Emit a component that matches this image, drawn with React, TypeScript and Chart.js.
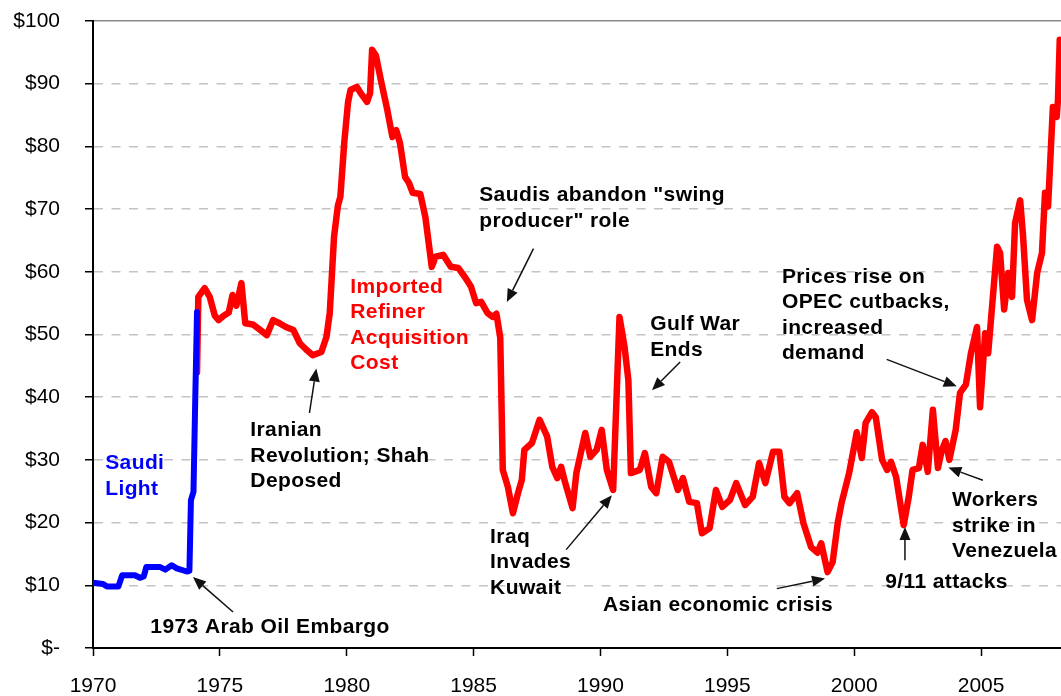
import { useEffect, useRef } from 'react';
import { Chart, registerables } from 'chart.js';

Chart.register(...registerables);

// ---------- Data ----------
const saudiYears = [
  1970.0, 1970.4, 1970.55, 1971.0, 1971.15, 1971.65, 1971.85, 1972.0, 1972.1, 1972.65,
  1972.85, 1973.1, 1973.3, 1973.7, 1973.8, 1973.86, 1973.96, 1974.03, 1974.1,
];
const saudiValues = [
  10.4, 10.2, 9.8, 9.8, 11.6, 11.6, 11.2, 11.4, 12.9, 12.9,
  12.5, 13.2, 12.7, 12.2, 12.3, 23.6, 24.9, 39.7, 53.6,
];

const racYears = [
  1974.1, 1974.15, 1974.4, 1974.6, 1974.8, 1974.95, 1975.15, 1975.35, 1975.5, 1975.65,
  1975.85, 1976.0, 1976.3, 1976.6, 1976.85, 1977.1, 1977.35, 1977.6, 1977.9, 1978.15,
  1978.4, 1978.66, 1979.0, 1979.2, 1979.33, 1979.5, 1979.65, 1979.75, 1979.9, 1980.05,
  1980.15, 1980.4, 1980.55, 1980.8, 1980.92, 1981.0, 1981.15, 1981.35, 1981.6, 1981.8,
  1981.95, 1982.1, 1982.3, 1982.45, 1982.6, 1982.9, 1983.1, 1983.35, 1983.5, 1983.8,
  1984.1, 1984.4, 1984.65, 1984.9, 1985.1, 1985.3, 1985.55, 1985.75, 1985.9, 1986.05,
  1986.15, 1986.35, 1986.55, 1986.75, 1986.9, 1987.0, 1987.3, 1987.6, 1987.9, 1988.1,
  1988.3, 1988.45, 1988.6, 1988.9, 1989.05, 1989.4, 1989.6, 1989.85, 1990.05, 1990.25,
  1990.5, 1990.75, 1990.95, 1991.1, 1991.2, 1991.55, 1991.75, 1992.0, 1992.2, 1992.45,
  1992.7, 1993.05, 1993.25, 1993.5, 1993.8, 1994.0, 1994.3, 1994.55, 1994.8, 1995.1,
  1995.35, 1995.7, 1996.0, 1996.25, 1996.5, 1996.8, 1997.05, 1997.25, 1997.45, 1997.75,
  1998.0, 1998.3, 1998.55, 1998.7, 1998.95, 1999.15, 1999.35, 1999.5, 1999.8, 2000.1,
  2000.3, 2000.45, 2000.7, 2000.85, 2001.1, 2001.3, 2001.45, 2001.65, 2001.95, 2002.15,
  2002.3, 2002.55, 2002.7, 2002.9, 2003.1, 2003.3, 2003.45, 2003.6, 2003.75, 2004.0,
  2004.17, 2004.4, 2004.6, 2004.84, 2004.96, 2005.16, 2005.28, 2005.63, 2005.75, 2005.91,
  2006.07, 2006.22, 2006.34, 2006.54, 2006.65, 2006.81, 2007.01, 2007.21, 2007.4, 2007.52,
  2007.64, 2007.83, 2007.98, 2008.03, 2008.1,
];
const racValues = [
  44.0, 56.0, 57.4, 56.0, 53.0, 52.3, 53.0, 53.5, 56.3, 54.6,
  58.2, 51.8, 51.6, 50.7, 49.9, 52.3, 51.8, 51.2, 50.7, 48.6,
  47.6, 46.7, 47.2, 49.6, 53.4, 65.6, 70.5, 72.0, 80.5, 87.0,
  89.0, 89.5, 88.5, 87.1, 88.5, 95.4, 94.5, 90.5, 85.8, 81.5,
  82.6, 80.5, 75.1, 74.2, 72.6, 72.4, 68.7, 60.8, 62.4, 62.7,
  60.8, 60.6, 59.2, 57.6, 55.0, 55.2, 53.4, 52.8, 53.3, 49.5,
  28.4, 25.7, 21.5, 24.7, 26.8, 31.6, 32.7, 36.4, 33.7, 28.9,
  27.1, 28.9, 26.5, 22.3, 27.9, 34.3, 30.5, 31.6, 34.8, 28.4,
  25.2, 52.8, 48.0, 42.7, 27.9, 28.4, 31.1, 25.7, 24.7, 30.5,
  29.7, 25.2, 27.1, 23.3, 23.1, 18.3, 19.1, 25.2, 22.5, 23.6,
  26.3, 22.8, 24.1, 29.5, 26.3, 31.3, 31.3, 24.1, 23.1, 24.7,
  19.9, 16.1, 15.2, 16.7, 12.1, 13.7, 19.9, 23.1, 27.9, 34.4,
  30.3, 35.9, 37.6, 36.8, 30.0, 28.4, 29.7, 27.3, 19.6, 24.1,
  28.4, 28.7, 32.4, 28.1, 38.0, 28.7, 31.5, 33.0, 30.0, 34.8,
  40.7, 42.0, 47.0, 51.2, 38.4, 50.2, 47.0, 64.0, 63.0, 54.0,
  59.8, 56.0, 67.8, 71.4, 66.0, 55.5, 52.3, 59.8, 63.0, 72.6,
  70.4, 86.3, 84.7, 87.4, 97.0,
];

const xTickYears = [1970, 1975, 1980, 1985, 1990, 1995, 2000, 2005];
const yTickValues = [0, 10, 20, 30, 40, 50, 60, 70, 80, 90, 100];
const yTickLabels = ['$-', '$10', '$20', '$30', '$40', '$50', '$60', '$70', '$80', '$90', '$100'];

// Annotation texts (anchored in data coordinates: year, value of first line's middle)
const annotationTexts = [
  { lines: ['Saudi', 'Light'], year: 1970.48, value: 29.4, color: '#0000ff' },
  { lines: ['1973 Arab Oil Embargo'], year: 1972.26, value: 3.35, color: '#000000' },
  { lines: ['Iranian', 'Revolution; Shah', 'Deposed'], year: 1976.2, value: 34.72, color: '#000000' },
  { lines: ['Imported', 'Refiner', 'Acquisition', 'Cost'], year: 1980.14, value: 57.58, color: '#ff0000' },
  { lines: ['Saudis abandon "swing', 'producer" role'], year: 1985.22, value: 72.2, color: '#000000' },
  { lines: ['Gulf War', 'Ends'], year: 1991.96, value: 51.63, color: '#000000' },
  { lines: ['Iraq', 'Invades', 'Kuwait'], year: 1985.65, value: 17.7, color: '#000000' },
  { lines: ['Asian economic crisis'], year: 1990.1, value: 6.81, color: '#000000' },
  { lines: ['9/11 attacks'], year: 2001.22, value: 10.53, color: '#000000' },
  { lines: ['Workers', 'strike in', 'Venezuela'], year: 2003.85, value: 23.56, color: '#000000' },
  { lines: ['Prices rise on', 'OPEC cutbacks,', 'increased', 'demand'], year: 1997.15, value: 59.17, color: '#000000' },
];

// Arrows: from tail to tip, in data coordinates [year, value]
const annotationArrows = [
  { from: [1975.52, 5.74], to: [1973.94, 11.32] },
  { from: [1978.53, 37.48], to: [1978.8, 44.56] },
  { from: [1987.36, 63.7], to: [1986.31, 55.18] },
  { from: [1993.14, 45.61], to: [1992.03, 41.1] },
  { from: [1988.65, 15.69], to: [1990.45, 24.35] },
  { from: [1996.95, 9.47], to: [1998.85, 11.07] },
  { from: [2002.0, 13.99], to: [2002.0, 19.3] },
  { from: [2005.07, 26.75], to: [2003.71, 28.77] },
  { from: [2001.28, 46.04], to: [2004.04, 41.74] },
];

const FONT = '"Liberation Sans", Arial, sans-serif';

const annotationPlugin = {
  id: 'oilAnnotations',
  afterDatasetsDraw(chart: any) {
    const { ctx } = chart;
    const xs = chart.scales.x;
    const ys = chart.scales.y;
    ctx.save();
    ctx.strokeStyle = '#111';
    ctx.fillStyle = '#111';
    ctx.lineWidth = 1.5;
    for (const a of annotationArrows) {
      const x1 = xs.getPixelForValue(a.from[0]);
      const y1 = ys.getPixelForValue(a.from[1]);
      const x2 = xs.getPixelForValue(a.to[0]);
      const y2 = ys.getPixelForValue(a.to[1]);
      const ang = Math.atan2(y2 - y1, x2 - x1);
      const head = 13;
      const hw = 5.5;
      const bx = x2 - head * Math.cos(ang);
      const by = y2 - head * Math.sin(ang);
      ctx.beginPath();
      ctx.moveTo(x1, y1);
      ctx.lineTo(bx, by);
      ctx.stroke();
      ctx.beginPath();
      ctx.moveTo(x2, y2);
      ctx.lineTo(bx + hw * Math.sin(ang), by - hw * Math.cos(ang));
      ctx.lineTo(bx - hw * Math.sin(ang), by + hw * Math.cos(ang));
      ctx.closePath();
      ctx.fill();
    }
    ctx.font = `bold 21px ${FONT}`;
    ctx.textBaseline = 'middle';
    ctx.textAlign = 'left';
    try { (ctx as any).letterSpacing = '0.4px'; } catch (e) { /* ignore */ }
    for (const t of annotationTexts) {
      const x = xs.getPixelForValue(t.year);
      const y = ys.getPixelForValue(t.value);
      ctx.fillStyle = t.color;
      t.lines.forEach((line, i) => ctx.fillText(line, x, y + i * 25.5));
    }
    ctx.restore();
  },
};

export default function App() {
  const canvasRef = useRef<HTMLCanvasElement | null>(null);

  useEffect(() => {
    const canvas = canvasRef.current;
    if (!canvas) return;
    const saudiData = saudiYears.map((yr, i) => ({ x: yr, y: saudiValues[i] }));
    const racData = racYears.map((yr, i) => ({ x: yr, y: racValues[i] }));

    const chart = new Chart(canvas, {
      type: 'line',
      data: {
        datasets: [
          {
            label: 'Saudi Light',
            data: saudiData,
            borderColor: '#0000ff',
            borderWidth: 6,
            pointRadius: 0,
            tension: 0,
            fill: false,
            borderJoinStyle: 'round',
            borderCapStyle: 'round',
          },
          {
            label: 'Imported Refiner Acquisition Cost',
            data: racData,
            borderColor: '#ff0000',
            borderWidth: 6.5,
            pointRadius: 0,
            tension: 0,
            fill: false,
            borderJoinStyle: 'round',
            borderCapStyle: 'round',
          },
        ],
      },
      options: {
        responsive: false,
        animation: false,
        devicePixelRatio: 1,
        layout: { padding: { top: 21, right: 0, bottom: 0, left: 0 } },
        plugins: {
          legend: { display: false },
          tooltip: { enabled: false },
        },
        scales: {
          x: {
            type: 'linear',
            min: 1970,
            max: 2008.15,
            afterBuildTicks: (scale: any) => {
              scale.ticks = xTickYears.map((v) => ({ value: v }));
            },
            afterFit: (scale: any) => {
              scale.height = 48;
              scale.paddingLeft = 0;
              scale.paddingRight = 0;
            },
            ticks: {
              autoSkip: false,
              maxRotation: 0,
              padding: 18,
              color: '#000',
              font: { family: FONT, size: 21 },
              callback: (v: any) => String(v),
            },
            grid: {
              display: true,
              drawOnChartArea: false,
              drawTicks: true,
              tickLength: 8,
              tickColor: '#000',
              tickWidth: 1.5,
            },
            border: { display: true, color: '#000', width: 2 },
          },
          y: {
            type: 'linear',
            min: 0,
            max: 100,
            afterBuildTicks: (scale: any) => {
              scale.ticks = yTickValues.map((v) => ({ value: v }));
            },
            afterFit: (scale: any) => {
              scale.width = 93;
              scale.paddingTop = 0;
              scale.paddingBottom = 0;
            },
            ticks: {
              padding: 25,
              color: '#000',
              font: { family: FONT, size: 21 },
              callback: (v: any) => {
                const idx = yTickValues.indexOf(Number(v));
                return idx >= 0 ? yTickLabels[idx] : '';
              },
            },
            grid: {
              color: (c: any) => {
                const v = c.tick ? c.tick.value : null;
                if (v === 0) return 'rgba(0,0,0,0)';
                if (v === 100) return '#8a8a8a';
                return '#c4c4c4';
              },
              lineWidth: 1.5,
              drawTicks: true,
              tickLength: 8,
              tickColor: '#000',
              tickWidth: 1.5,
            },
            border: {
              display: true,
              color: '#000',
              width: 2,
              dash: (c: any) => (c.tick && c.tick.value === 100 ? [] : [9, 8.5]),
            },
          },
        },
      },
      plugins: [annotationPlugin],
    } as any);

    return () => chart.destroy();
  }, []);

  return (
    <div style={{ position: 'absolute', left: 0, top: 0, width: 1061, height: 696, background: '#fff' }}>
      <canvas ref={canvasRef} width={1061} height={696} style={{ display: 'block', width: 1061, height: 696 }} />
    </div>
  );
}
